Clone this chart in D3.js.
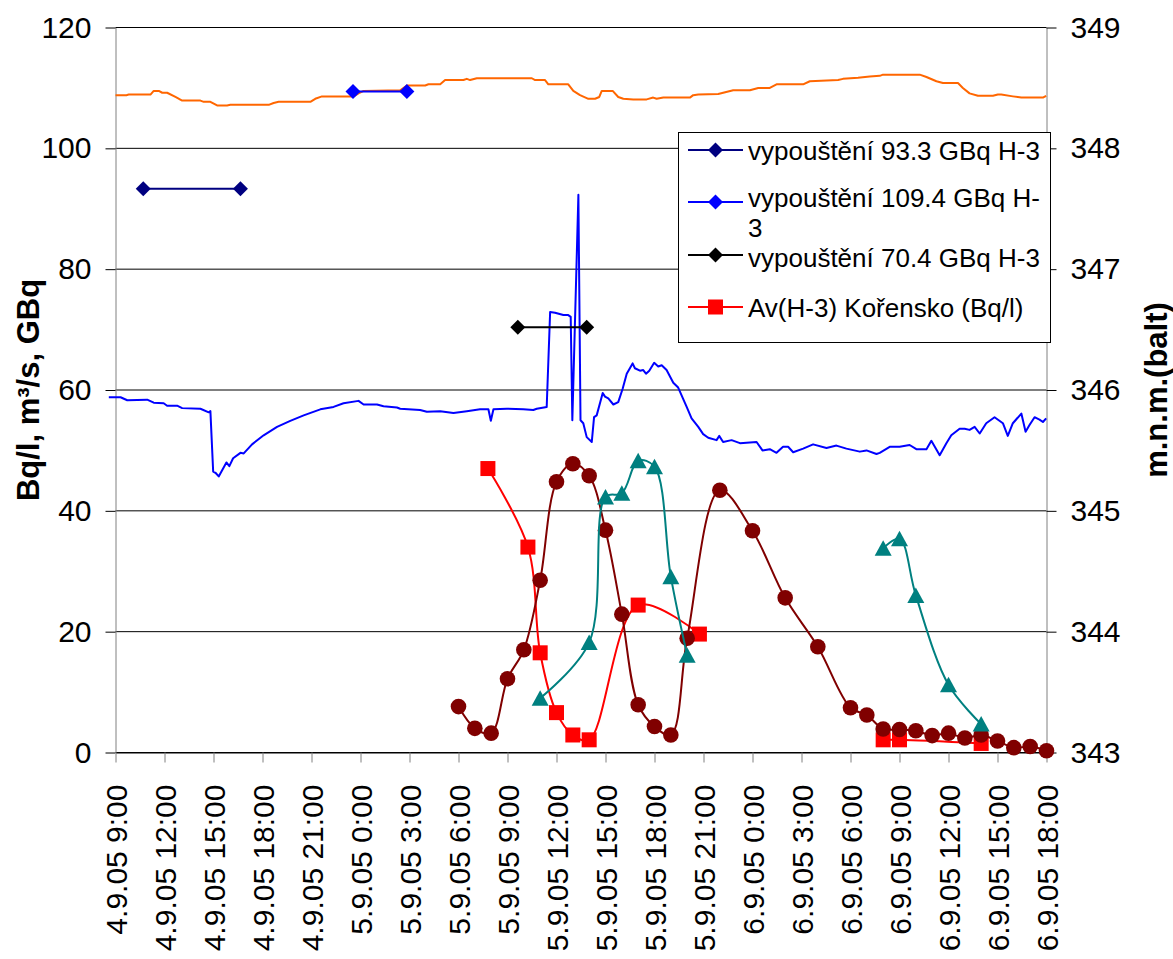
<!DOCTYPE html>
<html>
<head>
<meta charset="utf-8">
<script src="https://cdn.jsdelivr.net/npm/d3@7"></script>
<style>
  html, body { margin: 0; padding: 0; background: #fff; }
  svg { display: block; font-family: "Liberation Sans", Arial, sans-serif; }
</style>
</head>
<body>
<svg id="chart" width="1173" height="959"></svg>
<script>
// Time is given in hours elapsed since 4.9.2005 9:00.
const xTickHours = d3.range(0, 58, 3);
const xTickLabels = [
  "4.9.05 9:00", "4.9.05 12:00", "4.9.05 15:00", "4.9.05 18:00", "4.9.05 21:00",
  "5.9.05 0:00", "5.9.05 3:00", "5.9.05 6:00", "5.9.05 9:00", "5.9.05 12:00",
  "5.9.05 15:00", "5.9.05 18:00", "5.9.05 21:00", "6.9.05 0:00", "6.9.05 3:00",
  "6.9.05 6:00", "6.9.05 9:00", "6.9.05 12:00", "6.9.05 15:00", "6.9.05 18:00"
];
const leftTicks = [0, 20, 40, 60, 80, 100, 120];
const rightTicks = [343, 344, 345, 346, 347, 348, 349];

// Discharge (m3/s), left axis
const flowHours = [
  -0.41, 0.31, 0.72, 1.94, 2.34, 2.95, 3.16, 3.77, 4.08, 5.20, 5.71, 5.81, 5.98, 6.12, 6.32,
  6.79, 6.97, 7.20, 7.65, 7.85, 8.36, 9.07, 9.89, 10.70, 11.52, 12.54, 13.35, 13.96, 14.88,
  15.19, 16.01, 16.41, 17.23, 17.43, 18.65, 19.06, 19.88, 20.69, 21.51, 22.32, 22.83, 22.98,
  23.14, 23.96, 24.97, 25.58, 25.79, 26.40, 26.61, 26.91, 27.42, 27.72, 27.87, 27.97, 28.34,
  28.47, 28.64, 28.85, 29.16, 29.30, 29.46, 29.83, 29.97, 30.17, 30.48, 30.78, 31.05, 31.30,
  31.66, 31.80, 32.11, 32.31, 32.48, 32.68, 32.98, 33.23, 33.44, 33.74, 34.15, 34.45, 34.97,
  35.27, 35.68, 35.98, 36.29, 36.80, 36.96, 37.20, 37.72, 38.23, 39.25, 39.61, 40.06, 40.47,
  40.87, 41.18, 41.49, 42.10, 42.71, 43.53, 44.14, 44.75, 45.57, 45.98, 46.59, 46.79, 47.40,
  48.01, 48.62, 49.03, 49.65, 49.95, 50.46, 50.87, 51.17, 51.68, 51.99, 52.29, 52.60, 52.91,
  53.31, 53.82, 54.33, 54.63, 54.94, 55.46, 55.72, 55.96, 56.27, 56.57, 56.78, 56.98
];
const flowValues = [
  58.8, 58.8, 58.3, 58.4, 57.9, 57.8, 57.4, 57.4, 57.0, 56.9, 56.3, 56.5, 46.5, 46.3, 45.7,
  48.0, 47.4, 48.7, 49.6, 49.5, 51.0, 52.5, 53.9, 54.9, 55.8, 56.8, 57.2, 57.8, 58.2,
  57.6, 57.6, 57.3, 57.1, 56.9, 56.7, 56.4, 56.5, 56.2, 56.5, 56.8, 56.8, 54.9,
  56.8, 56.9, 56.8, 56.7, 56.9, 57.2, 72.9, 72.8, 72.4, 72.4, 72.1, 55.0, 92.3,
  55.0, 54.5, 52.2, 51.4, 55.5, 55.8, 59.5, 58.9, 58.6, 57.6, 58.0, 60.2, 62.7,
  64.4, 63.6, 63.2, 63.3, 62.7, 63.2, 64.5, 63.9, 64.1, 63.3, 61.2, 60.4, 57.2,
  55.3, 53.9, 52.7, 52.1, 51.7, 52.4, 51.4, 51.7, 51.2, 51.4, 50.0, 50.2, 49.6,
  50.6, 50.6, 49.7, 50.3, 51.0, 50.4, 50.8, 50.3, 49.8, 50.0, 49.4, 49.6, 50.6,
  50.6, 50.9, 50.2, 50.2, 51.6, 49.2, 51.2, 52.5, 53.6, 53.6, 53.4, 53.9, 52.8,
  54.5, 55.5, 54.5, 52.4, 54.5, 56.1, 53.1, 54.2, 55.5, 55.1, 54.7, 55.3
];

// Water level (m n.m., Balt), right axis
const levelHours = [
  0, 0.67, 0.81, 2.14, 2.34, 2.65, 2.86, 3.16, 3.67, 4.08, 5.20, 5.40, 5.81, 6.22, 6.83,
  7.03, 9.38, 9.68, 9.99, 11.93, 12.23, 12.64, 14.58, 14.88, 15.19, 17.43, 17.84, 18.96,
  19.16, 19.88, 20.18, 21.30, 21.51, 21.71, 22.12, 25.49, 25.69, 26.30, 26.50, 27.72, 28.03,
  28.44, 28.95, 29.36, 29.62, 29.77, 30.44, 30.78, 31.09, 31.70, 32.52, 32.92, 33.13, 33.54,
  35.17, 35.37, 35.68, 36.90, 37.82, 38.84, 39.35, 40.06, 40.47, 42.10, 42.51, 44.24, 44.54,
  45.46, 46.18, 46.79, 46.99, 49.24, 49.65, 50.26, 50.66, 51.58, 51.88, 52.29, 52.80, 53.72,
  54.02, 54.23, 54.94, 55.46, 56.78, 56.98
];
const levelValues = [
  348.440, 348.440, 348.445, 348.445, 348.475, 348.475, 348.460, 348.460, 348.425, 348.395,
  348.395, 348.385, 348.385, 348.355, 348.355, 348.360, 348.360, 348.375, 348.385, 348.385,
  348.410, 348.430, 348.430, 348.455, 348.475, 348.480, 348.520, 348.520, 348.530, 348.530,
  348.565, 348.565, 348.575, 348.565, 348.580, 348.580, 348.565, 348.565, 348.530, 348.530,
  348.475, 348.440, 348.410, 348.410, 348.425, 348.475, 348.475, 348.425, 348.410, 348.405,
  348.405, 348.420, 348.410, 348.420, 348.420, 348.440, 348.445, 348.450, 348.480, 348.480,
  348.500, 348.500, 348.530, 348.530, 348.555, 348.565, 348.575, 348.585, 348.595, 348.600,
  348.610, 348.610, 348.590, 348.555, 348.540, 348.540, 348.500, 348.455, 348.435, 348.435,
  348.445, 348.445, 348.430, 348.420, 348.420, 348.435
];

// Tritium releases (GBq): start and end of each release
const release93Hours = [1.7, 7.65];
const release93Values = [93.3, 93.3];
const release109Hours = [14.54, 17.84];
const release109Values = [109.4, 109.4];
const release70Hours = [24.63, 28.85];
const release70Values = [70.4, 70.4];

// Av(H-3) Kořensko (Bq/l); null marks a break in the record
const korenskoHours = [22.8, 25.25, 26, 27, 28, 29, 32, 35.75, 41, 47, 48, 53];
const korenskoValues = [47.0, 34.0, 16.5, 6.6, 2.9, 2.1, 24.4, 19.6, null, 2.1, 2.1, 1.5];

// Av(H-3) sampling profile with circles (Bq/l)
const profileCircleHours = [21, 22, 23, 24, 25, 26, 27, 28, 29, 30, 31, 32, 33, 34, 35, 37, 39, 41, 43,
  45, 46, 47, 48, 49, 50, 51, 52, 53, 54, 55, 56, 57];
const profileCircleValues = [7.6, 4.0, 3.2, 12.2, 17.0, 28.5, 44.8, 47.8, 45.8, 36.8, 22.9, 7.9, 4.3,
  2.9, 18.9, 43.4, 36.7, 25.6, 17.5, 7.4, 6.2, 3.9, 3.8, 3.6, 2.8, 3.2, 2.4, 2.9, 1.9, 0.8, 1.0, 0.3];

// Av(H-3) sampling profile with triangles (Bq/l)
const profileTriangleHours = [26, 29, 30, 31, 32, 33, 34, 35, 41, 47, 48, 49, 51, 53];
const profileTriangleValues = [9.0, 18.2, 42.3, 42.9, 48.3, 47.3, 29.1, 16.1, null, 33.8, 35.4, 26.0, 11.2, 4.7];

const svg = d3.select("#chart");
svg.append("rect").attr("width", 1173).attr("height", 959).attr("fill", "#fff");

const x = d3.scaleLinear().domain([0, 57]).range([115.5, 1046.5]);
const yL = d3.scaleLinear().domain([0, 120]).range([752.5, 27.5]);
const yR = d3.scaleLinear().domain([343, 349]).range([752.5, 27.5]);

const FONT = "'Liberation Sans', Arial, sans-serif";

// Horizontal gridlines
svg.append("g").selectAll("line").data(leftTicks).join("line")
  .attr("x1", x.range()[0]).attr("x2", x.range()[1])
  .attr("y1", d => yL(d)).attr("y2", d => yL(d))
  .attr("stroke", "#000").attr("stroke-width", 1);

// Axes
const gLeft = svg.append("g").attr("transform", `translate(${x.range()[0]},0)`)
  .call(d3.axisLeft(yL).tickValues(leftTicks).tickSize(10).tickSizeOuter(0).tickPadding(14)
    .tickFormat(d3.format("d")));
gLeft.select(".domain").attr("stroke", "#808080");
gLeft.selectAll(".tick line").attr("stroke", "#000");
gLeft.selectAll("text").attr("font-size", 30).attr("fill", "#000").attr("font-family", FONT);

const gRight = svg.append("g").attr("transform", `translate(${x.range()[1]},0)`)
  .call(d3.axisRight(yR).tickValues(rightTicks).tickSize(10).tickSizeOuter(0).tickPadding(14)
    .tickFormat(d3.format("d")));
gRight.select(".domain").attr("stroke", "#808080");
gRight.selectAll(".tick line").attr("stroke", "#000");
gRight.selectAll("text").attr("font-size", 30).attr("fill", "#000").attr("font-family", FONT);

const gBottom = svg.append("g").attr("transform", `translate(0,${yL(0)})`)
  .call(d3.axisBottom(x).tickValues(xTickHours).tickSize(10).tickSizeOuter(0)
    .tickFormat((d, i) => xTickLabels[i]));
gBottom.select(".domain").attr("stroke", "#000");
gBottom.selectAll(".tick line").attr("stroke", "#808080");
gBottom.selectAll("text")
  .attr("font-size", 30).attr("fill", "#000").attr("font-family", FONT)
  .attr("transform", "rotate(-90)")
  .attr("x", -32).attr("y", 0).attr("dy", "0.35em")
  .style("text-anchor", "end");

// Axis titles
svg.append("text")
  .attr("transform", "translate(28,390) rotate(-90)")
  .attr("text-anchor", "middle").attr("dy", "0.35em")
  .attr("font-size", 31).attr("font-weight", "bold")
  .text("Bq/l, m³/s, GBq");
svg.append("text")
  .attr("transform", "translate(1156,390) rotate(-90)")
  .attr("text-anchor", "middle").attr("dy", "0.35em")
  .attr("font-size", 31).attr("font-weight", "bold")
  .text("m.n.m.(balt)");

// Helpers
function pairs(hours, values) { return hours.map((h, i) => [h, values[i]]); }

function drawMarker(g, type, color, cx, cy) {
  if (type === "diamond") {
    g.append("path").attr("d", `M${cx},${cy - 7.5}L${cx + 7.5},${cy}L${cx},${cy + 7.5}L${cx - 7.5},${cy}Z`)
      .attr("fill", color);
  } else if (type === "square") {
    g.append("rect").attr("x", cx - 7.5).attr("y", cy - 7.5).attr("width", 15).attr("height", 15)
      .attr("fill", color);
  } else if (type === "circle") {
    g.append("circle").attr("cx", cx).attr("cy", cy).attr("r", 7.8).attr("fill", color);
  } else if (type === "triangle") {
    g.append("path").attr("d", `M${cx},${cy - 8}L${cx + 8.5},${cy + 7.5}L${cx - 8.5},${cy + 7.5}Z`)
      .attr("fill", color);
  }
}

function drawSeries(hours, values, yScale, opts) {
  const data = pairs(hours, values);
  const line = d3.line()
    .defined(d => d[1] !== null)
    .x(d => x(d[0])).y(d => yScale(d[1]))
    .curve(opts.smooth ? d3.curveCatmullRom.alpha(0.5) : d3.curveLinear);
  const g = svg.append("g");
  g.append("path").attr("d", line(data))
    .attr("fill", "none").attr("stroke", opts.color)
    .attr("stroke-width", opts.width || 2)
    .attr("stroke-linejoin", "round");
  if (opts.marker) {
    data.filter(d => d[1] !== null)
      .forEach(d => drawMarker(g, opts.marker, opts.markerColor || opts.color, x(d[0]), yScale(d[1])));
  }
}

drawSeries(levelHours, levelValues, yR, { color: "#FF6600", width: 2 });
drawSeries(flowHours, flowValues, yL, { color: "#0000FF", width: 2 });
drawSeries(release93Hours, release93Values, yL, { color: "#000080", marker: "diamond" });
drawSeries(release109Hours, release109Values, yL, { color: "#0000FF", marker: "diamond" });
drawSeries(release70Hours, release70Values, yL, { color: "#000000", marker: "diamond" });
drawSeries(korenskoHours, korenskoValues, yL, { color: "#FF0000", marker: "square", smooth: true });
drawSeries(profileCircleHours, profileCircleValues, yL, { color: "#800000", marker: "circle", smooth: true });
drawSeries(profileTriangleHours, profileTriangleValues, yL, { color: "#008080", marker: "triangle", smooth: true });

// Legend: marker row y, then text baselines for each line of the label
const legendEntries = [
  { lines: ["vypouštění 93.3 GBq H-3"], color: "#000080", marker: "diamond", y: 150, base: [159.5] },
  { lines: ["vypouštění 109.4 GBq H-", "3"], color: "#0000FF", marker: "diamond", y: 202, base: [207, 236.5] },
  { lines: ["vypouštění 70.4 GBq H-3"], color: "#000000", marker: "diamond", y: 255, base: [266.5] },
  { lines: ["Av(H-3) Kořensko (Bq/l)"], color: "#FF0000", marker: "square", y: 307, base: [316.5] }
];
const lg = svg.append("g");
lg.append("rect").attr("x", 678.5).attr("y", 132.5).attr("width", 372).attr("height", 210)
  .attr("fill", "#fff").attr("stroke", "#000").attr("stroke-width", 1);
legendEntries.forEach(e => {
  lg.append("line").attr("x1", 688).attr("x2", 743).attr("y1", e.y).attr("y2", e.y)
    .attr("stroke", e.color).attr("stroke-width", 2);
  drawMarker(lg, e.marker, e.color, 715.5, e.y);
  e.lines.forEach((s, i) => {
    lg.append("text").attr("x", 748).attr("y", e.base[i])
      .attr("font-size", 26).attr("fill", "#000").text(s);
  });
});
</script>
</body>
</html>
